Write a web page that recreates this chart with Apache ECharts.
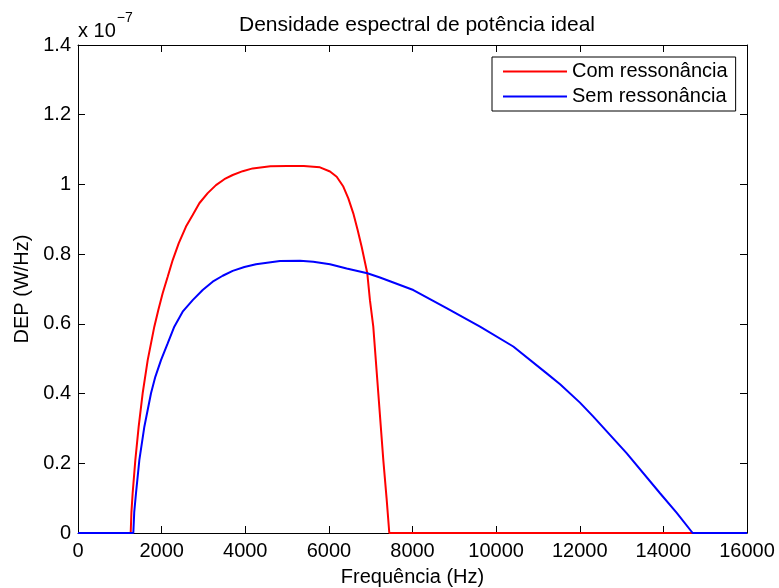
<!DOCTYPE html>
<html>
<head>
<meta charset="utf-8">
<script src="https://cdn.jsdelivr.net/npm/echarts@6/dist/echarts.min.js"></script>
<style>html,body{margin:0;padding:0;background:#fff}#c{width:779px;height:588px}</style>
</head>
<body>
<div id="c"></div>
<script>
// Values in units of 1e-7 W/Hz
const seriesNames = ['Com ressonância', 'Sem ressonância'];
const redFreq = [0, 1260, 1278, 1307, 1371, 1451, 1547, 1667, 1825, 1921, 2025, 2145, 2265, 2408, 2583, 2743, 2902, 3102, 3300, 3500, 3700, 3939, 4178, 4600, 5000, 5400, 5627, 5787, 6027, 6187, 6345, 6465, 6584, 6688, 6784, 6919, 6982, 7062, 7182, 7302, 7380, 7445, 16000];
const redDep  = [0, 0, 0.060, 0.114, 0.209, 0.305, 0.401, 0.496, 0.592, 0.640, 0.688, 0.735, 0.783, 0.831, 0.879, 0.912, 0.946, 0.975, 0.998, 1.015, 1.027, 1.038, 1.046, 1.052, 1.053, 1.053, 1.051, 1.049, 1.037, 1.022, 0.994, 0.960, 0.917, 0.869, 0.821, 0.745, 0.668, 0.592, 0.401, 0.209, 0.100, 0, 0];
const blueFreq = [0, 1323, 1345, 1387, 1467, 1587, 1746, 1849, 1985, 2145, 2303, 2503, 2743, 2982, 3221, 3461, 3700, 3979, 4257, 4830, 5310, 5627, 6027, 6425, 6920, 7222, 8020, 8815, 9615, 10410, 11210, 11530, 12005, 12325, 13120, 13920, 14320, 14700, 16000];
const blueDep  = [0, 0, 0.060, 0.114, 0.209, 0.305, 0.401, 0.448, 0.496, 0.544, 0.592, 0.635, 0.668, 0.697, 0.721, 0.738, 0.752, 0.763, 0.771, 0.780, 0.781, 0.778, 0.771, 0.759, 0.745, 0.733, 0.697, 0.645, 0.592, 0.535, 0.458, 0.427, 0.374, 0.334, 0.229, 0.114, 0.058, 0, 0];
const xTicks = [0, 2000, 4000, 6000, 8000, 10000, 12000, 14000, 16000];
const yTicks = [0, 0.2, 0.4, 0.6, 0.8, 1, 1.2, 1.4];
const titleText = 'Densidade espectral de potência ideal';
const xLabel = 'Frequência (Hz)';
const yLabel = 'DEP (W/Hz)';

const FONT = '"Liberation Sans", Arial, Helvetica, sans-serif';
const FS = 20;
const pair = (xs, ys) => xs.map((x, i) => [x, ys[i]]);

const chart = echarts.init(document.getElementById('c'), null, {renderer: 'canvas'});
const axisCommon = {
  type: 'value',
  axisLine: {show: true, onZero: false, lineStyle: {color: '#000', width: 1}},
  axisTick: {show: true, inside: true, length: 7, lineStyle: {color: '#000'}},
  splitLine: {show: false}
};
const xMin = xTicks[0], xMax = xTicks[xTicks.length - 1], xInt = xTicks[1] - xTicks[0];
const yMin = yTicks[0], yMax = yTicks[yTicks.length - 1], yInt = 0.2;
chart.setOption({
  animation: false,
  backgroundColor: '#fff',
  textStyle: {fontFamily: FONT},
  title: {
    text: titleText, left: 412, top: 10, textAlign: 'center',
    textStyle: {fontFamily: FONT, fontSize: 21, fontWeight: 'normal', color: '#000'}
  },
  grid: {left: 78, right: 32, top: 45, bottom: 55, containLabel: false, outerBoundsMode: 'none'},
  legend: {
    data: seriesNames, orient: 'vertical', left: 492, top: 57,
    padding: [2, 8, 2, 11], itemGap: 0, itemWidth: 64, itemHeight: 2, icon: 'rect',
    borderColor: '#000', borderWidth: 1, backgroundColor: '#fff',
    textStyle: {fontFamily: FONT, fontSize: FS, color: '#000', lineHeight: 25}
  },
  xAxis: [
    Object.assign({}, axisCommon, {
      position: 'bottom', min: xMin, max: xMax, interval: xInt,
      name: xLabel, nameLocation: 'middle', nameGap: 34,
      nameTextStyle: {fontFamily: FONT, fontSize: FS, color: '#000'},
      axisLabel: {show: true, margin: 8, fontFamily: FONT, fontSize: FS, color: '#000', formatter: v => String(v)}
    }),
    Object.assign({}, axisCommon, {
      position: 'top', min: xMin, max: xMax, interval: xInt, axisLabel: {show: false}
    })
  ],
  yAxis: [
    Object.assign({}, axisCommon, {
      position: 'left', min: yMin, max: yMax, interval: yInt,
      name: yLabel, nameLocation: 'middle', nameGap: 46, nameRotate: 90,
      nameTextStyle: {fontFamily: FONT, fontSize: FS, color: '#000'},
      axisLabel: {show: true, margin: 7, fontFamily: FONT, fontSize: FS, color: '#000', formatter: v => String(parseFloat(v.toFixed(1)))}
    }),
    Object.assign({}, axisCommon, {
      position: 'right', min: yMin, max: yMax, interval: yInt, axisLabel: {show: false}
    })
  ],
  graphic: [{
    type: 'text', left: 78, top: 11,
    style: {
      text: '{b|x 10}{s|−7}',
      rich: {
        b: {fontFamily: FONT, fontSize: FS, fill: '#000', padding: [10, 0, 0, 0]},
        s: {fontFamily: FONT, fontSize: 14, fill: '#000', verticalAlign: 'top', padding: [0, 0, 10, 1]}
      }
    }
  }],
  series: [
    {name: seriesNames[0], type: 'line', data: pair(redFreq, redDep), showSymbol: false, clip: false,
     lineStyle: {color: '#ff0000', width: 2}, itemStyle: {color: '#ff0000'}},
    {name: seriesNames[1], type: 'line', data: pair(blueFreq, blueDep), showSymbol: false, clip: false,
     lineStyle: {color: '#0000ff', width: 2}, itemStyle: {color: '#0000ff'}}
  ]
});
</script>
</body>
</html>
